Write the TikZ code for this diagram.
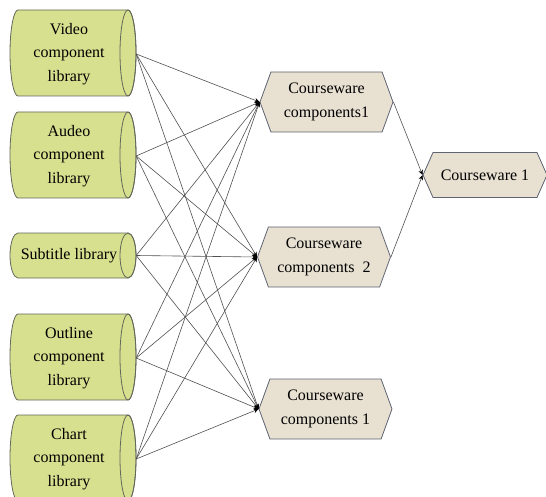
\documentclass[tikz,border=0pt]{standalone}
\usepackage{fontspec}
\setmainfont{Liberation Serif}
\usetikzlibrary{shapes.symbols,arrows.meta}
\definecolor{cylfill}{RGB}{214,224,142}
\definecolor{cylline}{RGB}{100,104,90}
\definecolor{hexfill}{RGB}{232,225,210}
\definecolor{hexline}{RGB}{95,100,115}
\definecolor{wire}{RGB}{80,80,80}
\tikzset{
  cylbody/.style={draw=cylline, fill=cylfill, line width=0.8pt},
  libtext/.style={shape=rectangle, minimum width=134pt, inner sep=0pt, align=center,
    font=\fontsize{16}{23.5}\selectfont},
  hexa/.style={shape=signal, signal to=west and east, signal from=nowhere, signal pointer angle=140,
    draw=hexline, fill=hexfill, line width=0.8pt, minimum width=133pt, minimum height=60pt,
    inner sep=0pt, align=center, font=\fontsize{16}{23.5}\selectfont},
  wireline/.style={draw=wire, line width=0.6pt, -{Stealth[length=5pt,width=4.5pt,black]}}
}
% #1 centre y, #2 half height
\newcommand\libcyl[2]{%
  \path[cylbody] (18pt,{-(#1-#2)*1pt}) -- (128pt,{-(#1-#2)*1pt})
     arc[start angle=90, end angle=-90, x radius=8pt, y radius=#2pt]
     -- (18pt,{-(#1+#2)*1pt})
     arc[start angle=270, end angle=90, x radius=8pt, y radius=#2pt] -- cycle;
  \draw[cylline, line width=0.8pt] (128pt,{-#1*1pt}) ellipse[x radius=8pt, y radius=#2pt];
}
\begin{document}
\begin{tikzpicture}[x=1pt,y=-1pt]
\useasboundingbox (0,0) rectangle (546,497);
\libcyl{53}{43}
\libcyl{155}{43}
\libcyl{255.5}{22.5}
\libcyl{357}{43}
\libcyl{458}{43}
\node[libtext] (v) at (69,54) {Video\\component\\library};
\node[libtext] (a) at (69,156) {Audeo\\component\\library};
\node[libtext] (s) at (69,255.5) {Subtitle library};
\node[libtext] (o) at (69,358) {Outline\\component\\library};
\node[libtext] (c) at (69,459) {Chart\\component\\library};
\node[hexa] (h1) at (326.5,102) {Courseware\\components1};
\node[hexa] (h2) at (324,257) {Courseware\\components~~2};
\node[hexa] (h3) at (325.5,409) {Courseware\\components 1};
\node[hexa, minimum width=124pt, minimum height=45pt, signal pointer angle=132] (cw) at (485,175) {Courseware 1};
\foreach \l in {v,a,s,o,c}{
  \foreach \h in {h1,h2,h3}{
    \draw[wireline] (\l.east) -- (\h.west);
  }
}
\draw[wireline] (h1.east) -- (cw.west);
\draw[wireline] (h2.east) -- (cw.west);
\end{tikzpicture}
\end{document}
